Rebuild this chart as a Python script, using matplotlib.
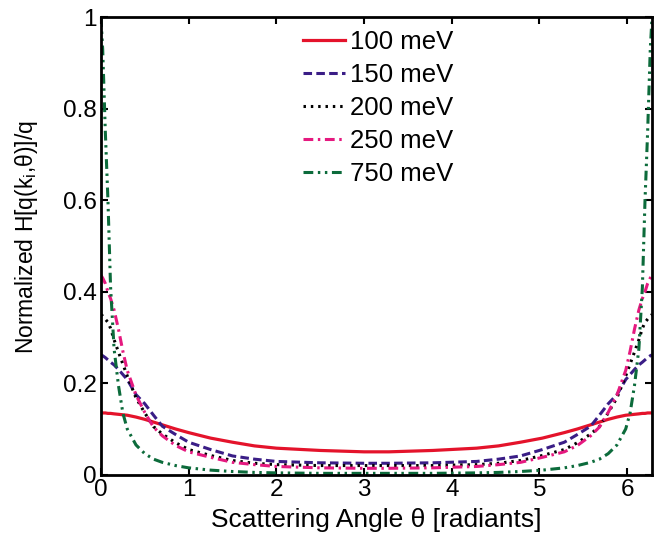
import matplotlib
matplotlib.use("Agg")
import matplotlib.pyplot as plt

plt.rcParams["font.family"] = ["Liberation Sans", "DejaVu Sans"]
plt.rcParams["mathtext.default"] = "regular"

# scattering angle [rad]
theta = [0.0, 0.02, 0.05, 0.08, 0.11, 0.15, 0.2, 0.25, 0.3, 0.4, 0.5, 0.6, 0.7, 0.85,
         1.0, 1.25, 1.5, 1.75, 2.0, 2.5, 3.0, 3.1416,
         3.283, 3.783, 4.283, 4.533, 4.783, 5.033, 5.283, 5.433, 5.583, 5.683, 5.783,
         5.883, 5.983, 6.033, 6.083, 6.133, 6.173, 6.203, 6.233, 6.263, 6.2832]

h_100 = [0.135, 0.135, 0.135, 0.134, 0.134, 0.133, 0.132, 0.131, 0.130, 0.126, 0.121,
         0.115, 0.109, 0.100, 0.092, 0.080, 0.071, 0.063, 0.058, 0.053, 0.050, 0.050,
         0.050, 0.053, 0.058, 0.063, 0.071, 0.080, 0.092, 0.100, 0.109, 0.115, 0.121,
         0.126, 0.130, 0.131, 0.132, 0.133, 0.134, 0.134, 0.135, 0.135, 0.135]
h_150 = [0.262, 0.260, 0.256, 0.251, 0.246, 0.240, 0.230, 0.219, 0.208, 0.175, 0.155,
         0.130, 0.106, 0.088, 0.071, 0.055, 0.041, 0.034, 0.029, 0.026, 0.025, 0.025,
         0.025, 0.026, 0.029, 0.034, 0.041, 0.055, 0.071, 0.088, 0.106, 0.130, 0.155,
         0.175, 0.208, 0.219, 0.230, 0.240, 0.246, 0.251, 0.256, 0.260, 0.262]
h_200 = [0.350, 0.347, 0.340, 0.333, 0.320, 0.295, 0.268, 0.242, 0.216, 0.168, 0.135,
         0.105, 0.089, 0.070, 0.055, 0.042, 0.031, 0.025, 0.022, 0.020, 0.020, 0.020,
         0.020, 0.020, 0.022, 0.025, 0.031, 0.042, 0.055, 0.070, 0.089, 0.105, 0.135,
         0.168, 0.216, 0.242, 0.268, 0.295, 0.320, 0.333, 0.340, 0.347, 0.350]
h_250 = [0.436, 0.430, 0.418, 0.400, 0.385, 0.360, 0.318, 0.270, 0.228, 0.174, 0.136,
         0.104, 0.085, 0.064, 0.050, 0.038, 0.027, 0.022, 0.018, 0.015, 0.014, 0.014,
         0.014, 0.015, 0.018, 0.022, 0.027, 0.038, 0.050, 0.064, 0.085, 0.104, 0.136,
         0.174, 0.228, 0.270, 0.318, 0.360, 0.385, 0.400, 0.418, 0.430, 0.436]
h_750 = [1.000, 0.930, 0.750, 0.600, 0.410, 0.275, 0.195, 0.135, 0.100, 0.065, 0.046,
         0.034, 0.027, 0.020, 0.015, 0.010, 0.007, 0.005, 0.004, 0.003, 0.003, 0.003,
         0.003, 0.003, 0.004, 0.005, 0.007, 0.010, 0.015, 0.020, 0.027, 0.034, 0.046,
         0.065, 0.100, 0.135, 0.195, 0.275, 0.410, 0.600, 0.750, 0.930, 1.000]

labels = ["100 meV", "150 meV", "200 meV", "250 meV", "750 meV"]
xticks = [0, 1, 2, 3, 4, 5, 6]
yticks = [0, 0.2, 0.4, 0.6, 0.8, 1]
ytick_labels = ["0", "0.2", "0.4", "0.6", "0.8", "1"]

fig = plt.figure(figsize=(6.64, 5.37), dpi=100)
ax = fig.add_axes([0.152, 0.116, 0.830, 0.852])

ax.plot(theta, h_100, color="#E4132B", lw=2.3, ls="-", label=labels[0])
ax.plot(theta, h_150, color="#3A1D86", lw=2.2, ls=(0, (2.8, 1.4)), label=labels[1])
ax.plot(theta, h_200, color="black", lw=2.2, ls=(0, (0.8, 1.6)), label=labels[2])
ax.plot(theta, h_250, color="#E5197F", lw=2.2, ls=(0, (3.2, 1.5, 0.8, 1.5)), label=labels[3])
ax.plot(theta, h_750, color="#0C6B3B", lw=2.2, ls=(0, (3.2, 1.5, 0.8, 1.5, 0.8, 1.5)),
        label=labels[4])

ax.set_xlim(0, 6.2832)
ax.set_ylim(0, 1)
ax.set_xticks(xticks)
ax.set_yticks(yticks)
ax.set_yticklabels(ytick_labels)
ax.tick_params(direction="in", top=True, right=True, length=5, width=1.5,
               labelsize=17.5, pad=3)
for s in ax.spines.values():
    s.set_linewidth(2.0)

ax.set_xlabel("Scattering Angle θ [radiants]", fontsize=19, labelpad=5)
ax.set_ylabel("Normalized H[q(k$_{i}$,θ)]/q", fontsize=16.5)
ax.yaxis.set_label_coords(-0.11, 0.52)

ax.legend(loc="upper left", bbox_to_anchor=(0.367, 0.972), frameon=False,
          fontsize=18.5, handlelength=1.63, handletextpad=0.2, labelspacing=0.35,
          borderpad=0, borderaxespad=0)

fig.savefig("out.png", dpi=100)
